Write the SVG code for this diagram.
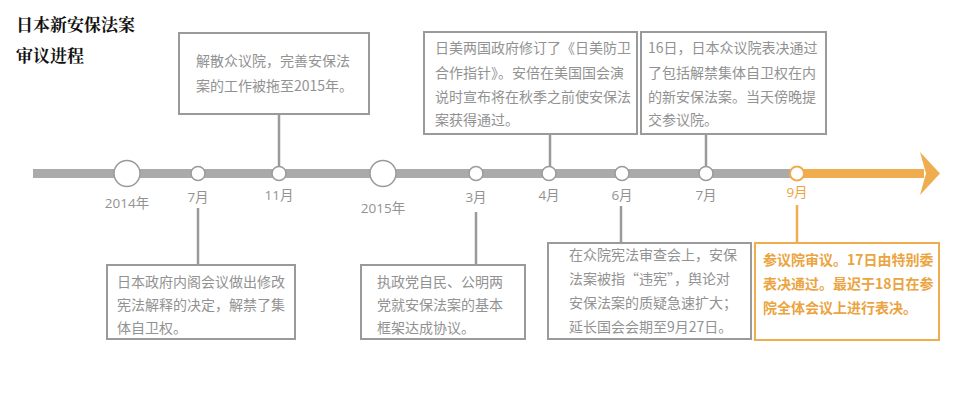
<svg xmlns="http://www.w3.org/2000/svg" width="980" height="400" viewBox="0 0 980 400">
<style>
text{font-family:"Microsoft YaHei","Noto Sans CJK SC","Noto Sans",sans-serif;}
.title{font-family:"Noto Serif CJK SC","Noto Sans CJK SC",serif;font-size:17px;font-weight:bold;fill:#111;}
.box{fill:#fff;stroke:#9a9a9a;stroke-width:2;}
.obox{fill:#fff;stroke:#efad4f;stroke-width:2;}
.t{font-size:14px;fill:#929292;}
.ot{font-size:14px;fill:#eba43f;font-weight:bold;}
.lbl{font-family:"Open Sans","Noto Sans CJK SC",sans-serif;font-size:13.5px;fill:#929292;text-anchor:middle;}
.olbl{font-family:"Open Sans","Noto Sans CJK SC",sans-serif;font-size:13.5px;fill:#eba43f;text-anchor:middle;}
.conn{stroke:#9a9a9a;stroke-width:2.5;fill:none;}
.oconn{stroke:#efad4f;stroke-width:2.5;fill:none;}
.dot{fill:#fff;stroke:#9a9a9a;stroke-width:1.5;}
.odot{fill:#fff;stroke:#efad4f;stroke-width:2;}
</style>
<rect x="0" y="0" width="980" height="400" fill="#ffffff"/>
<g id="title">
<text class="title" x="16" y="31">日本新安保法案</text>
<text class="title" x="16" y="62">审议进程</text>
</g>
<g id="timeline">
<line x1="33" y1="173.5" x2="797" y2="173.5" stroke="#aaaaaa" stroke-width="9"/>
<line x1="797" y1="173.5" x2="924" y2="173.5" stroke="#efad4f" stroke-width="9"/>
<polygon points="920,152 940,173.5 920,195 926,173.5" fill="#efad4f"/>
</g>
<g id="connectors">
<line class="conn" x1="279" y1="114" x2="279" y2="167"/>
<line class="conn" x1="550" y1="134" x2="550" y2="167"/>
<line class="conn" x1="706" y1="134" x2="706" y2="167"/>
<line class="conn" x1="198" y1="208" x2="198" y2="265"/>
<line class="conn" x1="476" y1="212" x2="476" y2="265"/>
<line class="conn" x1="621" y1="206" x2="621" y2="243"/>
<line class="oconn" x1="797" y1="205" x2="797" y2="243"/>
</g>
<g id="n-2014"><circle class="dot" cx="127" cy="173.5" r="13"/><text class="lbl" x="127" y="208">2014年</text></g>
<g id="n-2014-07"><circle class="dot" cx="198" cy="173.5" r="7"/><text class="lbl" x="198" y="202">7月</text></g>
<g id="n-2014-11"><circle class="dot" cx="279" cy="173.5" r="7"/><text class="lbl" x="279" y="200">11月</text></g>
<g id="n-2015"><circle class="dot" cx="383" cy="173.5" r="13"/><text class="lbl" x="383" y="213">2015年</text></g>
<g id="n-2015-03"><circle class="dot" cx="476" cy="173.5" r="7"/><text class="lbl" x="476" y="202">3月</text></g>
<g id="n-2015-04"><circle class="dot" cx="549" cy="173.5" r="7"/><text class="lbl" x="549" y="200">4月</text></g>
<g id="n-2015-06"><circle class="dot" cx="622" cy="173.5" r="7"/><text class="lbl" x="622" y="200">6月</text></g>
<g id="n-2015-07"><circle class="dot" cx="706" cy="173.5" r="7"/><text class="lbl" x="706" y="200">7月</text></g>
<g id="n-2015-09"><circle class="odot" cx="797" cy="173.5" r="7"/><text class="olbl" x="797" y="197">9月</text></g>
<g id="box-2014-11">
<rect class="box" x="179" y="33" width="190" height="81"/>
<text class="t" x="196" y="66">解散众议院，完善安保法</text>
<text class="t" x="196" y="91">案的工作被拖至2015年。</text>
</g>
<g id="box-2015-04">
<rect class="box" x="424" y="32" width="213" height="102"/>
<text class="t" x="435" y="53">日美两国政府修订了《日美防卫</text>
<text class="t" x="435" y="78">合作指针》。安倍在美国国会演</text>
<text class="t" x="435" y="102">说时宣布将在秋季之前使安保法</text>
<text class="t" x="435" y="125">案获得通过。</text>
</g>
<g id="box-2015-07">
<rect class="box" x="641" y="32" width="185" height="102"/>
<text class="t" x="648" y="53">16日，日本众议院表决通过</text>
<text class="t" x="648" y="78">了包括解禁集体自卫权在内</text>
<text class="t" x="648" y="102">的新安保法案。当天傍晚提</text>
<text class="t" x="648" y="125">交参议院。</text>
</g>
<g id="box-2014-07">
<rect class="box" x="107" y="265" width="188" height="74"/>
<text class="t" x="117" y="287">日本政府内阁会议做出修改</text>
<text class="t" x="117" y="310">宪法解释的决定，解禁了集</text>
<text class="t" x="117" y="333">体自卫权。</text>
</g>
<g id="box-2015-03">
<rect class="box" x="361" y="265" width="164" height="74"/>
<text class="t" x="377" y="287">执政党自民、公明两</text>
<text class="t" x="377" y="310">党就安保法案的基本</text>
<text class="t" x="377" y="333">框架达成协议。</text>
</g>
<g id="box-2015-06">
<rect class="box" x="548" y="243" width="203" height="96"/>
<text class="t" x="569" y="260">在众院宪法审查会上，安保</text>
<text class="t" x="569" y="284">法案被指“违宪”，舆论对</text>
<text class="t" x="569" y="308">安保法案的质疑急速扩大；</text>
<text class="t" x="569" y="332">延长国会会期至9月27日。</text>
</g>
<g id="box-2015-09">
<rect class="obox" x="755" y="243" width="184" height="97"/>
<text class="ot" x="763" y="265">参议院审议。17日由特别委</text>
<text class="ot" x="763" y="289">表决通过。最迟于18日在参</text>
<text class="ot" x="763" y="313">院全体会议上进行表决。</text>
</g>
</svg>
